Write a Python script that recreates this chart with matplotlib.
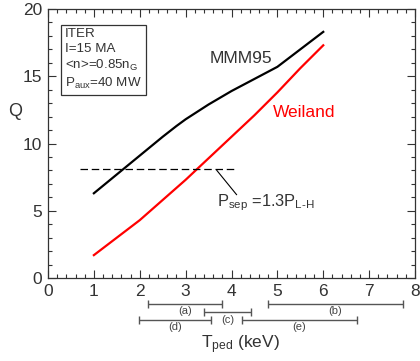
import matplotlib
matplotlib.use("Agg")
import matplotlib.pyplot as plt
from matplotlib.ticker import MultipleLocator

plt.rcParams['font.family'] = ['Liberation Sans', 'DejaVu Sans']
plt.rcParams['mathtext.fontset'] = 'custom'
plt.rcParams['mathtext.rm'] = 'Liberation Sans'
plt.rcParams['mathtext.it'] = 'Liberation Sans'

# Data
t_mmm = [1.0, 1.5, 2.0, 2.5, 2.8, 3.0, 3.5, 4.0, 4.5, 5.0, 5.5, 6.0]
q_mmm = [6.3, 7.7, 9.1, 10.5, 11.3, 11.8, 12.9, 13.9, 14.8, 15.7, 17.0, 18.3]
t_wei = [1.0, 1.5, 2.0, 2.5, 3.0, 3.5, 4.0, 4.5, 5.0, 5.5, 6.0]
q_wei = [1.7, 3.0, 4.3, 5.8, 7.3, 8.9, 10.5, 12.1, 13.8, 15.6, 17.3]
psep_q = 8.1
psep_x = [0.7, 4.07]

range_labels = ['(a)', '(b)', '(c)', '(d)', '(e)']
range_lo = [2.18, 4.79, 3.40, 1.98, 4.23]
range_hi = [3.79, 7.73, 4.42, 3.55, 6.73]
range_row = [0, 0, 1, 2, 2]

fig = plt.figure(figsize=(4.2, 3.61), dpi=100)
ax = fig.add_axes([48/420, 1-278/361, (415-48)/420, (278-9)/361])

ax.plot(t_mmm, q_mmm, color='black', lw=1.6)
ax.plot(t_wei, q_wei, color='red', lw=1.6)
ax.plot(psep_x, [psep_q, psep_q], color='black', lw=0.9, dashes=(6, 3))
ax.plot([3.68, 4.11], [8.0, 6.2], color='black', lw=0.8)

ax.set_xlim(0, 8)
ax.set_ylim(0, 20)
ax.xaxis.set_major_locator(MultipleLocator(1))
ax.xaxis.set_minor_locator(MultipleLocator(0.2))
ax.yaxis.set_major_locator(MultipleLocator(5))
ax.yaxis.set_minor_locator(MultipleLocator(1))
ax.tick_params(which='both', direction='in', top=True, right=True, colors='#333333',
               labelsize=12.5, width=0.8)
ax.tick_params(which='major', length=6, pad=4)
ax.tick_params(which='minor', length=3)
for s in ax.spines.values():
    s.set_color('#333333')
    s.set_linewidth(0.9)

txtc = '#333333'
ax.text(3.53, 16.3, 'MMM95', color=txtc, fontsize=12.5, va='center')
ax.text(4.9, 12.3, 'Weiland', color='red', fontsize=12.5, va='center')
ax.text(3.68, 5.6, r'P$_{\rm sep}$ =1.3P$_{\rm L\text{-}H}$', color=txtc, fontsize=11.8, va='center')

box_txt = 'ITER\nI=15 MA\n<n>=0.85n$_{\\rm G}$\nP$_{\\rm aux}$=40 MW'
ax.text(0.37, 18.6, box_txt, color=txtc, fontsize=9.6, va='top', ha='left', linespacing=1.3,
        bbox=dict(boxstyle='square,pad=0.3', fc='white', ec='#333333', lw=0.9))

ax.set_ylabel('Q', fontsize=13, color=txtc, rotation=0, va='center')
ax.yaxis.set_label_coords(-0.09, 0.62)

row_y = [-1.94, -2.54, -3.13]
for lab, lo, hi, r in zip(range_labels, range_lo, range_hi, range_row):
    y = row_y[r]
    ax.errorbar([(lo+hi)/2], [y], xerr=[[(hi-lo)/2], [(hi-lo)/2]], fmt='none',
                ecolor='#555555', elinewidth=1.0, capsize=3, capthick=1.0, clip_on=False)
    ax.text((lo+hi)/2, y-0.55, lab, ha='center', va='center', fontsize=8, color='#444444',
            clip_on=False)

fig.text(240/420, 1-345/361, 'T$_{\\rm ped}$ (keV)', ha='center', va='center', fontsize=12.5, color=txtc)

fig.savefig('out.png', dpi=100)
